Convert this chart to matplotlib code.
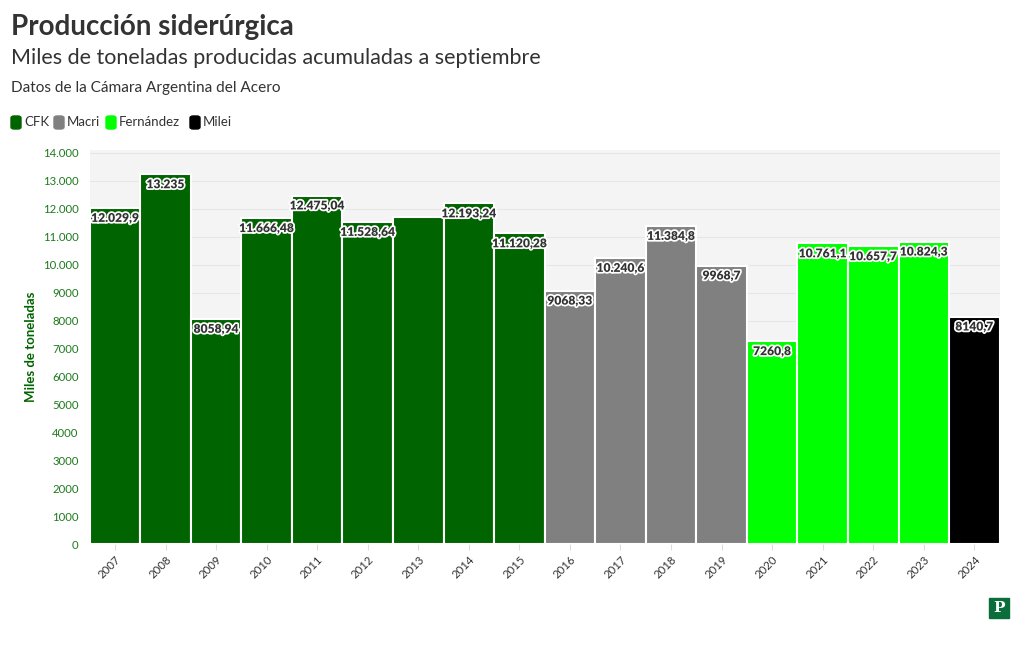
import matplotlib
matplotlib.use("Agg")
import matplotlib.pyplot as plt
import matplotlib.patheffects as pe
from matplotlib.patches import FancyBboxPatch, Rectangle

# data
years = ["2007", "2008", "2009", "2010", "2011", "2012", "2013", "2014", "2015",
         "2016", "2017", "2018", "2019", "2020", "2021", "2022", "2023", "2024"]
values = [12029.9, 13235, 8058.94, 11666.48, 12475.04, 11528.64, 11690, 12193.24, 11120.28,
          9068.33, 10240.6, 11384.8, 9968.7, 7260.8, 10761.1, 10657.7, 10824.3, 8140.7]
labels = ["12.029,9", "13.235", "8058,94", "11.666,48", "12.475,04", "11.528,64", "", "12.193,24", "11.120,28",
          "9068,33", "10.240,6", "11.384,8", "9968,7", "7260,8", "10.761,1", "10.657,7", "10.824,3", "8140,7"]
gobierno = ["CFK"] * 9 + ["Macri"] * 4 + ["Fernández"] * 4 + ["Milei"]
colores = {"CFK": "#006400", "Macri": "#808080", "Fernández": "#00ff00", "Milei": "#000000"}
yticks = list(range(0, 15000, 1000))
ytick_labels = ["0", "1000", "2000", "3000", "4000", "5000", "6000", "7000", "8000", "9000",
                "10.000", "11.000", "12.000", "13.000", "14.000"]

plt.rcParams['font.family'] = ['Lato', 'DejaVu Sans']

fig = plt.figure(figsize=(10.2, 6.5), dpi=100)
ax = fig.add_axes([0.088, 0.163, 0.892, 0.606])
ax.set_facecolor("#f4f4f4")

x = range(len(years))
ax.bar(x, values, width=1.0, color=[colores[g] for g in gobierno],
       edgecolor="white", linewidth=1.5, zorder=2)

for i, (v, lab) in enumerate(zip(values, labels)):
    if lab == "":
        continue
    ax.annotate(lab, (i, v), xytext=(0, -7.5), textcoords="offset points",
                ha="center", va="center", fontsize=8.7, fontweight="heavy", color="#333333",
                path_effects=[pe.withStroke(linewidth=2.5, foreground="white")], zorder=4)

ax.set_xlim(-0.5, len(years) - 0.5)
ax.set_ylim(0, 14100)
ax.set_yticks(yticks)
ax.set_yticklabels(ytick_labels, color="#1e7a1e", fontsize=8.2)
ax.set_xticks(list(x))
ax.set_xticklabels(years, rotation=45, ha="right", rotation_mode="anchor", fontsize=8.2, color="#333333")
ax.tick_params(axis="y", length=0, pad=8)
ax.tick_params(axis="x", length=4, color="#dddddd", pad=3)
ax.grid(axis="y", color="#e6e6e6", linewidth=0.8, zorder=0)
ax.set_axisbelow(True)
for s in ax.spines.values():
    s.set_visible(False)
ax.set_ylabel("Miles de toneladas", color="#006400", fontsize=9.5, fontweight="bold", labelpad=4)

# titles
fig.text(0.011, 0.958, "Producción siderúrgica", fontsize=20, fontweight="bold", color="#333333", va="center")
fig.text(0.011, 0.911, "Miles de toneladas producidas acumuladas a septiembre", fontsize=15.5, color="#333333", va="center")
fig.text(0.011, 0.864, "Datos de la Cámara Argentina del Acero", fontsize=11.1, color="#333333", va="center")

# legend
leg_x = [11, 54, 106, 190]
for xx, g in zip(leg_x, colores):
    fig.patches.append(FancyBboxPatch((xx / 1020, 1 - 129 / 650), 10 / 1020, 13 / 650,
                                      boxstyle="round,pad=0,rounding_size=0.003",
                                      transform=fig.transFigure, color=colores[g]))
    fig.text((xx + 13) / 1020, 1 - 122 / 650, g, fontsize=9.5, color="#333333", va="center")

# logo
fig.patches.append(Rectangle((989 / 1020, 1 - 618 / 650), 20 / 1020, 20 / 650,
                             transform=fig.transFigure, color="#0a6e3a"))
fig.text(999 / 1020, 1 - 608 / 650, "P", fontsize=11, fontweight="bold", color="white",
         ha="center", va="center", family="DejaVu Serif")

fig.savefig("out.png", dpi=100)
